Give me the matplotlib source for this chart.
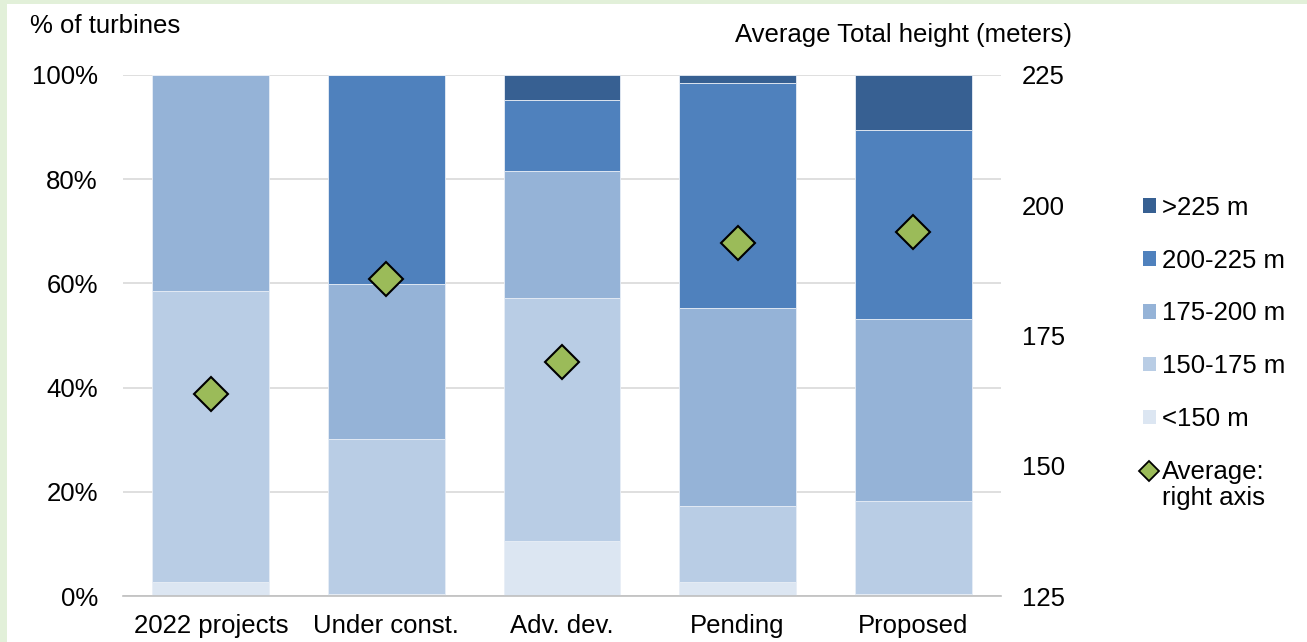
import matplotlib.pyplot as plt
from matplotlib.patches import Rectangle
from matplotlib.lines import Line2D

plt.rcParams['font.family'] = ['Liberation Sans', 'DejaVu Sans']

categories = ["2022 projects", "Under const.", "Adv. dev.", "Pending", "Proposed"]
bins = ["<150 m", "150-175 m", "175-200 m", "200-225 m", ">225 m"]
lt150 = [2.7, 0.4, 10.6, 2.7, 0.4]
h150_175 = [55.8, 29.7, 46.6, 14.6, 17.8]
h175_200 = [41.5, 29.8, 24.4, 38.0, 35.0]
h200_225 = [0.0, 40.1, 13.6, 43.2, 36.2]
gt225 = [0.0, 0.0, 4.8, 1.5, 10.6]
avg_height = [163.8, 185.8, 169.9, 192.8, 194.9]

colors = ["#DCE6F2", "#B9CDE5", "#95B3D7", "#4F81BD", "#376092"]
series = [lt150, h150_175, h175_200, h200_225, gt225]
fs = 18.5

fig = plt.figure(figsize=(13.07, 6.42), dpi=100)
fig.patch.set_facecolor("#E2F0D9")
fig.patches.append(Rectangle((7 / 1307, 0), 1, 1 - 4 / 642, transform=fig.transFigure,
                             facecolor="white", edgecolor="none", zorder=-5))

ax = fig.add_axes([123 / 1307, 1 - 596 / 642, 878 / 1307, 521 / 642])
ax.set_facecolor("none")
x = range(len(categories))
bottom = [0] * len(categories)
handles = []
for vals, c, lab in zip(series, colors, bins):
    ax.bar(x, vals, bottom=bottom, width=0.665, color=c, edgecolor="#E8EEF6",
           linewidth=0.6, zorder=2)
    bottom = [b + v for b, v in zip(bottom, vals)]
    handles.append(Rectangle((0, 0), 1, 1, facecolor=c, edgecolor="none", label=lab))

ax.set_xlim(-0.5, 4.5)
ax.set_ylim(0, 100)
ax.set_yticks(range(0, 101, 20))
ax.set_yticklabels([f"{v}%" for v in range(0, 101, 20)])
ax.yaxis.grid(True, color="#D9D9D9", linewidth=1.2, zorder=0)
ax.set_axisbelow(True)
for s in ["top", "right", "left"]:
    ax.spines[s].set_visible(False)
ax.spines["bottom"].set_color("#BFBFBF")
ax.spines["bottom"].set_linewidth(1.2)
ax.tick_params(axis="both", length=0, labelsize=fs)
ax.tick_params(axis="y", pad=18)
ax.tick_params(axis="x", pad=13)
ax.set_xticks(list(x))
ax.set_xticklabels(categories)

ax2 = ax.twinx()
ax2.set_ylim(125, 225)
ax2.set_yticks(range(125, 226, 25))
for s in ax2.spines.values():
    s.set_visible(False)
ax2.tick_params(axis="y", length=0, labelsize=fs, pad=15)
ax2.plot(list(x), avg_height, linestyle="none", marker="D", markersize=17.5,
         markerfacecolor="#9BBB59", markeredgecolor="black", markeredgewidth=1.5, zorder=5)

fig.text(30 / 1307, 1 - 26 / 642, "% of turbines", fontsize=fs, va="center", ha="left")
fig.text(1072 / 1307, 1 - 35 / 642, "Average Total height (meters)", fontsize=fs,
         va="center", ha="right")

handles = handles[::-1]
handles.append(Line2D([], [], linestyle="none", marker="D", markersize=10,
                      markerfacecolor="#9BBB59", markeredgecolor="black",
                      markeredgewidth=1.3, label="Average:"))
leg = fig.legend(handles=handles, loc="upper left", bbox_to_anchor=(1130 / 1307, 1 - 183 / 642),
                 frameon=False, fontsize=fs, handlelength=0.5, handleheight=0.5,
                 handletextpad=0.25, labelspacing=1.12, borderpad=0)

# second line of the last legend entry, under "Average:"
fig.canvas.draw()
bb = leg.get_texts()[-1].get_window_extent().transformed(fig.transFigure.inverted())
fig.text(bb.x0, bb.y0 - 0.003, "right axis", fontsize=fs, ha="left", va="top")

fig.savefig("out.png", dpi=100)
